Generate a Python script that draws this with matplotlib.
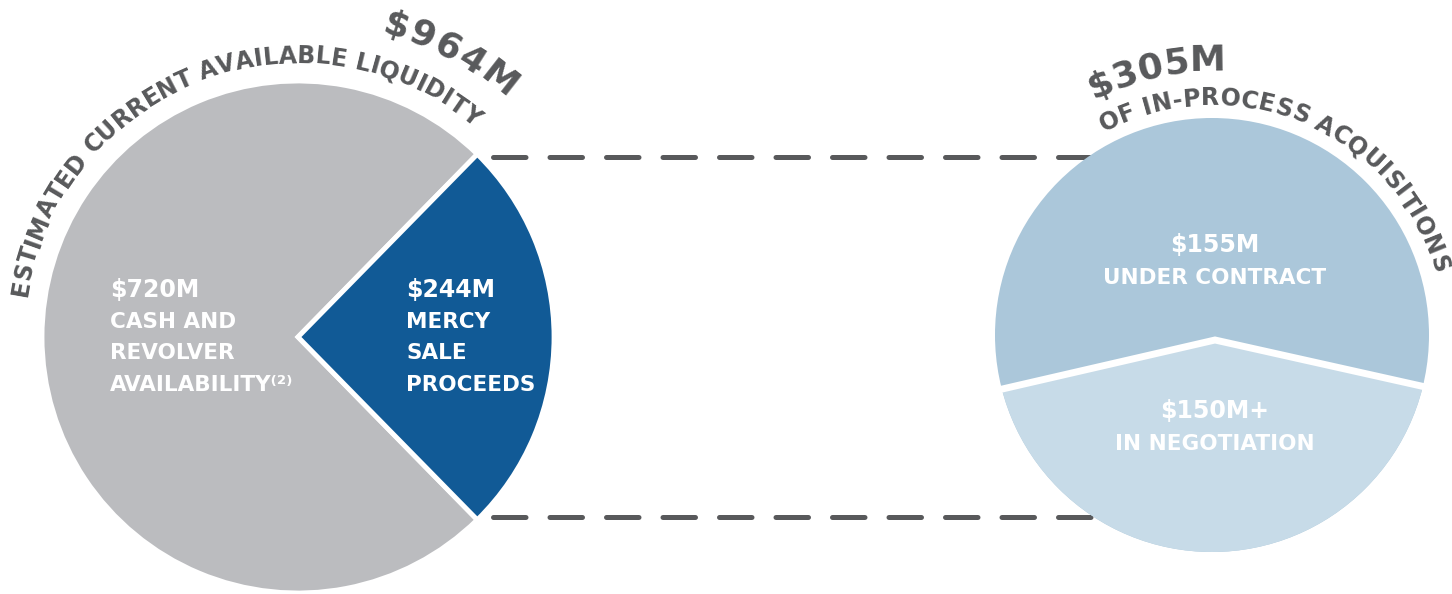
import matplotlib
matplotlib.use("Agg")
import matplotlib.pyplot as plt
import numpy as np
from matplotlib.patches import Circle, Polygon
from matplotlib.font_manager import FontProperties

# data
liquidity_values = [720, 244]
liquidity_colors = ["#bbbcbf", "#115a96"]
liquidity_labels = [["$720M", "CASH AND", "REVOLVER", "AVAILABILITY⁽²⁾"],
                    ["$244M", "MERCY", "SALE", "PROCEEDS"]]
liquidity_total = "$964M"
liquidity_title = "ESTIMATED CURRENT AVAILABLE LIQUIDITY"

acq_values = [155, 150]
acq_colors = ["#abc7da", "#c7dbe8"]
acq_labels = [["$155M", "UNDER CONTRACT"], ["$150M+", "IN NEGOTIATION"]]
acq_total = "$305M"
acq_title = "OF IN-PROCESS ACQUISITIONS"

text_gray = "#58595b"
FONT = "DejaVu Sans"

fig = plt.figure(figsize=(14.52, 5.94), dpi=100)
ax = fig.add_axes([0, 0, 1, 1])

# left pie, blue slice centred on the right side
lc = (298, 337)
lr = 256
expl = 0.04
half = 180 * liquidity_values[1] / sum(liquidity_values)
wedges, _ = ax.pie(liquidity_values, colors=liquidity_colors, center=lc, radius=lr,
                   startangle=half, explode=[0, expl], counterclock=True,
                   wedgeprops=dict(edgecolor="white", linewidth=3.5))
for w in wedges:
    w.set_zorder(2)

ax.set_xlim(0, 1452)
ax.set_ylim(594, 0)
ax.set_aspect("equal")
ax.axis("off")

# dashed connectors from the corners of the blue slice
off = expl * lr
xs = lc[0] + off + lr * np.cos(np.radians(half)) + 6
for sgn in (-1, 1):
    y = lc[1] + sgn * (lr - 4) * np.sin(np.radians(half))
    ax.plot([xs, 1105], [y, y], color=text_gray, lw=3.6, dashes=(6.5, 4.8),
            dash_capstyle="round", zorder=1)

# right circle split by a chevron
rc = (1212, 335)
rr = 217
top = Circle(rc, rr, fc=acq_colors[0], ec="none", zorder=2)
ax.add_patch(top)
bot = Circle(rc, rr, fc=acq_colors[1], ec="none", zorder=3)
ax.add_patch(bot)
chev_x = [rc[0] - rr - 10, 1215, rc[0] + rr + 10]
chev_y = [393, 340, 390]
clip = Polygon(list(zip(chev_x, chev_y)) + [(chev_x[-1], 600), (chev_x[0], 600)],
               closed=True, transform=ax.transData)
bot.set_clip_path(clip)
ax.plot(chev_x, chev_y, color="white", lw=5, zorder=4, solid_joinstyle="miter")

# inner labels
for i, lines in enumerate(liquidity_labels):
    x0 = [110, 406][i]
    for j, s in enumerate(lines):
        ax.text(x0, 290 + j * 31.7, s, color="white", fontsize=17 if j == 0 else 15.5,
                fontweight="bold", family=FONT, ha="left", va="center", zorder=5)

for i, lines in enumerate(acq_labels):
    y0 = [245, 411][i]
    for j, s in enumerate(lines):
        ax.text(1215, y0 + j * 33, s, color="white", fontsize=17 if j == 0 else 15.5,
                fontweight="bold", family=FONT, ha="center", va="center", zorder=5)

# curved text along arcs
fig.canvas.draw()
renderer = fig.canvas.get_renderer()


def arc_text(text, c, r, a0, a1, size, weight="normal"):
    fp = FontProperties(family=FONT, size=size, weight=weight)
    widths = []
    for ch in text:
        if ch == " ":
            widths.append(size * 0.45)
        else:
            widths.append(renderer.get_text_width_height_descent(ch, fp, ismath=False)[0])
    widths = np.array(widths)
    centers = np.cumsum(widths) - widths / 2
    span = centers[-1] - centers[0]
    L = r * np.radians(a0 - a1)
    t = (L - span) / (len(text) - 1)
    for i, ch in enumerate(text):
        s = centers[i] - centers[0] + i * t
        th = a0 - np.degrees(s / r)
        x = c[0] + r * np.cos(np.radians(th))
        y = c[1] - r * np.sin(np.radians(th))
        ax.text(x, y, ch, rotation=th - 90, rotation_mode="anchor", ha="center",
                va="center", fontproperties=fp, color=text_gray, zorder=6)


arc_text(liquidity_title, lc, 281, 170, 52, 17, "bold")
arc_text(liquidity_total, lc, 326, 72.5, 52, 26, "bold")
arc_text(acq_title, rc, 237, 115.6, 17.5, 17, "bold")
arc_text(acq_total, rc, 274, 114, 91, 26, "bold")

fig.savefig("out.png", dpi=100, facecolor="white")
